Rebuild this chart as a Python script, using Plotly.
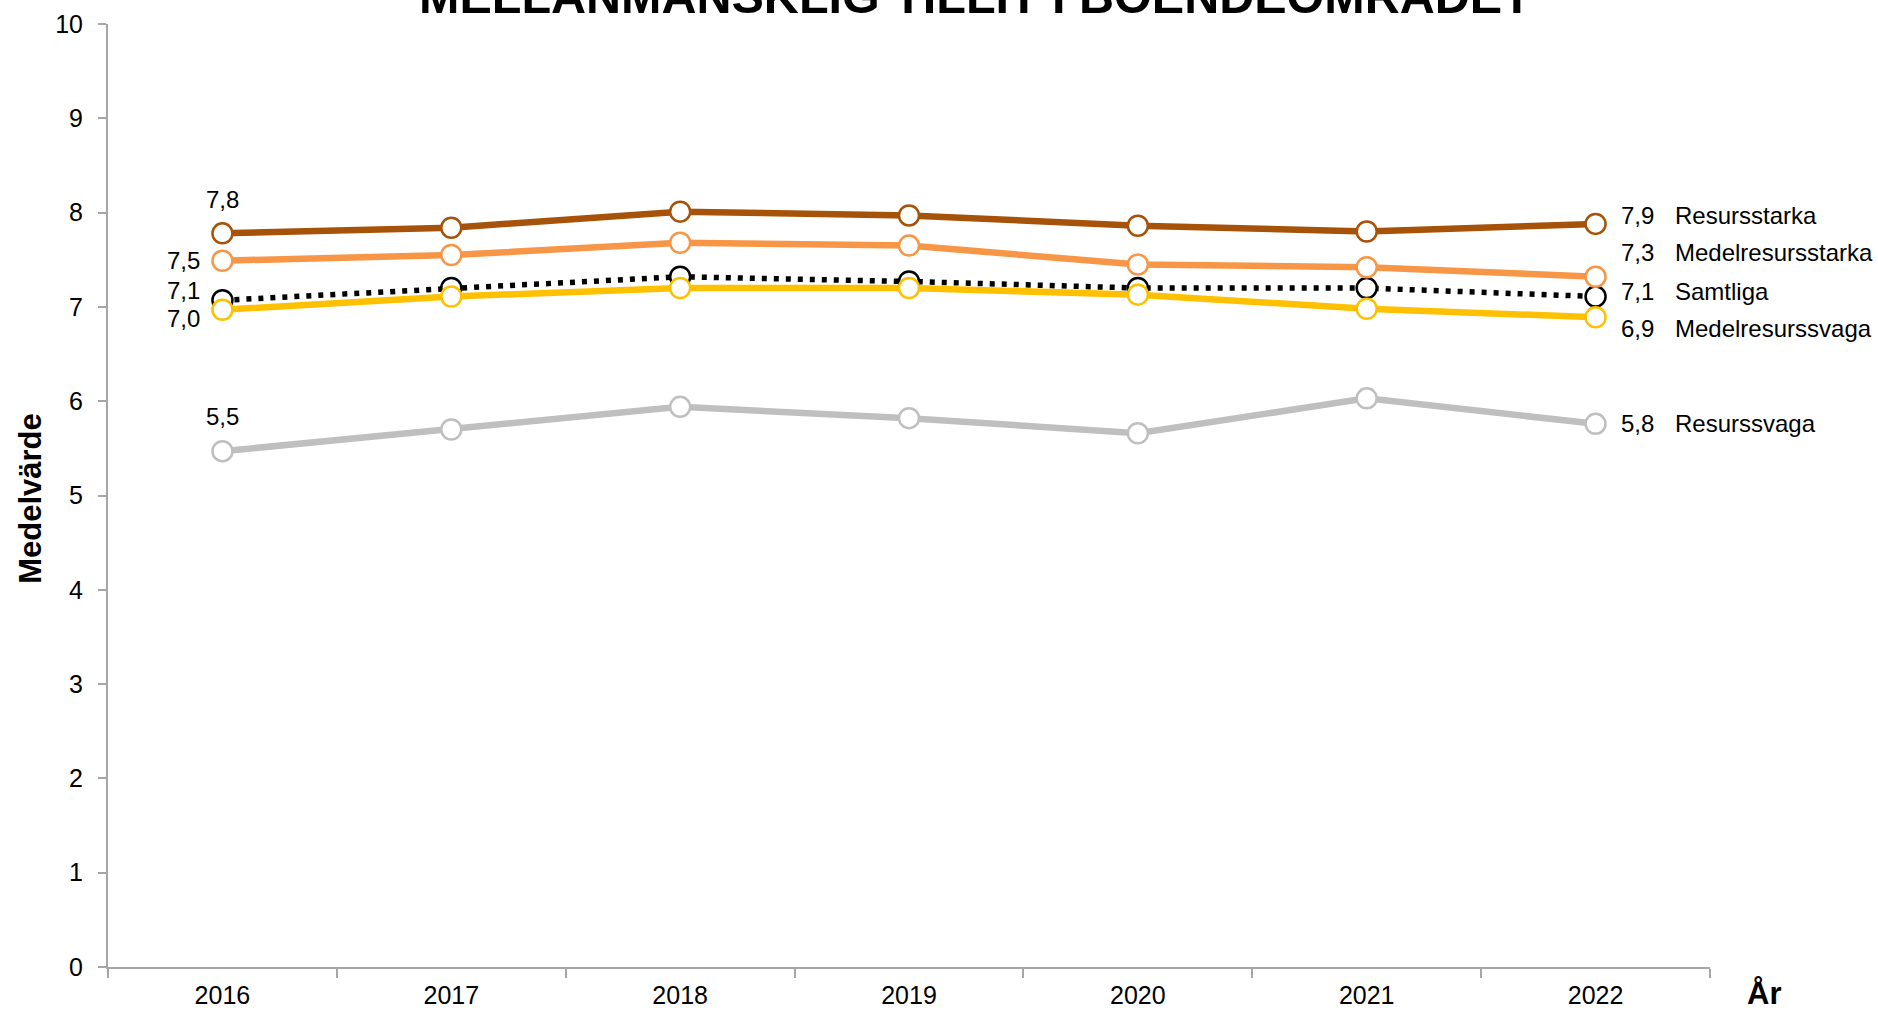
import plotly.graph_objects as go

years = ["2016", "2017", "2018", "2019", "2020", "2021", "2022"]

series_names = ["Resurssvaga", "Samtliga", "Medelresurssvaga", "Medelresursstarka", "Resursstarka"]
resurssvaga = [5.47, 5.70, 5.94, 5.82, 5.66, 6.03, 5.76]
samtliga = [7.07, 7.20, 7.32, 7.27, 7.20, 7.20, 7.11]
medelresurssvaga = [6.97, 7.11, 7.20, 7.20, 7.13, 6.98, 6.89]
medelresursstarka = [7.49, 7.55, 7.68, 7.65, 7.45, 7.42, 7.32]
resursstarka = [7.78, 7.84, 8.01, 7.97, 7.86, 7.80, 7.88]

title_text = "MELLANMÄNSKLIG TILLIT I BOENDEOMRÅDET"
y_title = "Medelvärde"
x_title = "År"

FONT = "Arial, Liberation Sans, sans-serif"

styles = {
    "Resurssvaga": dict(color="#BFBFBF", dash="solid"),
    "Samtliga": dict(color="#000000", dash="5px,7px"),
    "Medelresurssvaga": dict(color="#FFC000", dash="solid"),
    "Medelresursstarka": dict(color="#F79646", dash="solid"),
    "Resursstarka": dict(color="#A65208", dash="solid"),
}
values = {
    "Resurssvaga": resurssvaga,
    "Samtliga": samtliga,
    "Medelresurssvaga": medelresurssvaga,
    "Medelresursstarka": medelresursstarka,
    "Resursstarka": resursstarka,
}
first_label = {
    "Resursstarka": dict(xanchor="center", xshift=0, yshift=34),
    "Medelresursstarka": dict(xanchor="right", xshift=-20, yshift=0),
    "Samtliga": dict(xanchor="right", xshift=-20, yshift=10),
    "Medelresurssvaga": dict(xanchor="right", xshift=-20, yshift=-9),
    "Resurssvaga": dict(xanchor="center", xshift=0, yshift=35),
}
last_shift = {
    "Resursstarka": 8,
    "Medelresursstarka": 24,
    "Samtliga": 5,
    "Medelresurssvaga": -11,
    "Resurssvaga": 0,
}

def fmt(v):
    return f"{v:.1f}".replace(".", ",")

fig = go.Figure()
for name in series_names:
    st = styles[name]
    w = 5.5 if name == "Samtliga" else 6.5
    fig.add_trace(go.Scatter(
        x=years, y=values[name], name=name, mode="lines+markers",
        line=dict(color=st["color"], width=w, dash=st["dash"]),
        marker=dict(size=20, color="white", line=dict(color=st["color"], width=2.5)),
        showlegend=False,
    ))

first_i = 0
last_i = len(years) - 1
LBL = 24
annotations = []
for name in series_names:
    v = values[name]
    fl = first_label[name]
    annotations.append(dict(
        x=first_i, y=v[first_i], xref="x", yref="y", text=fmt(v[first_i]), showarrow=False,
        xanchor=fl["xanchor"], yanchor="middle", xshift=fl["xshift"], yshift=fl["yshift"],
        font=dict(family=FONT, size=LBL, color="black"),
    ))
    annotations.append(dict(
        x=last_i, y=v[last_i], xref="x", yref="y", text=fmt(v[last_i]), showarrow=False,
        xanchor="left", yanchor="middle", xshift=23, yshift=last_shift[name],
        font=dict(family=FONT, size=LBL, color="black"),
    ))
    annotations.append(dict(
        x=last_i, y=v[last_i], xref="x", yref="y", text=name, showarrow=False,
        xanchor="left", yanchor="middle", xshift=77, yshift=last_shift[name],
        font=dict(family=FONT, size=LBL, color="black"),
    ))

annotations.append(dict(
    x=0.5415, y=1.0, xref="paper", yref="paper", text=f"<b>{title_text}</b>", showarrow=False,
    xanchor="center", yanchor="middle", yshift=28,
    font=dict(family=FONT, size=48.5, color="black"),
))
annotations.append(dict(
    x=-0.0484, y=0.497, xref="paper", yref="paper", text=f"<b>{y_title}</b>", showarrow=False,
    xanchor="center", yanchor="middle", textangle=-90,
    font=dict(family=FONT, size=31, color="black"),
))
annotations.append(dict(
    x=1.0335, y=-0.028, xref="paper", yref="paper", text=f"<b>{x_title}</b>", showarrow=False,
    xanchor="center", yanchor="middle",
    font=dict(family=FONT, size=31, color="black"),
))

axis_col = "#A6A6A6"
fig.update_layout(
    width=1878, height=1011,
    margin=dict(l=108, r=168, t=24, b=44),
    paper_bgcolor="white", plot_bgcolor="white",
    font=dict(family=FONT, size=25, color="black"),
    annotations=annotations,
    xaxis=dict(
        type="category", range=[-0.5, 6.5], tickson="boundaries", automargin=False,
        showline=True, linecolor=axis_col, linewidth=2,
        ticks="outside", ticklen=9, tickcolor=axis_col, tickwidth=2,
        showgrid=False, zeroline=False, ticklabelstandoff=5,
        tickfont=dict(family=FONT, size=25, color="black"),
    ),
    yaxis=dict(
        range=[0, 10], dtick=1, tick0=0, automargin=False,
        showline=True, linecolor=axis_col, linewidth=2,
        ticks="outside", ticklen=8, tickcolor=axis_col, tickwidth=2,
        showgrid=False, zeroline=False, ticklabelstandoff=10,
        tickfont=dict(family=FONT, size=25, color="black"),
    ),
)

fig.write_html("out.html", config={"displayModeBar": False},
               post_script="document.body.style.margin='0';")
